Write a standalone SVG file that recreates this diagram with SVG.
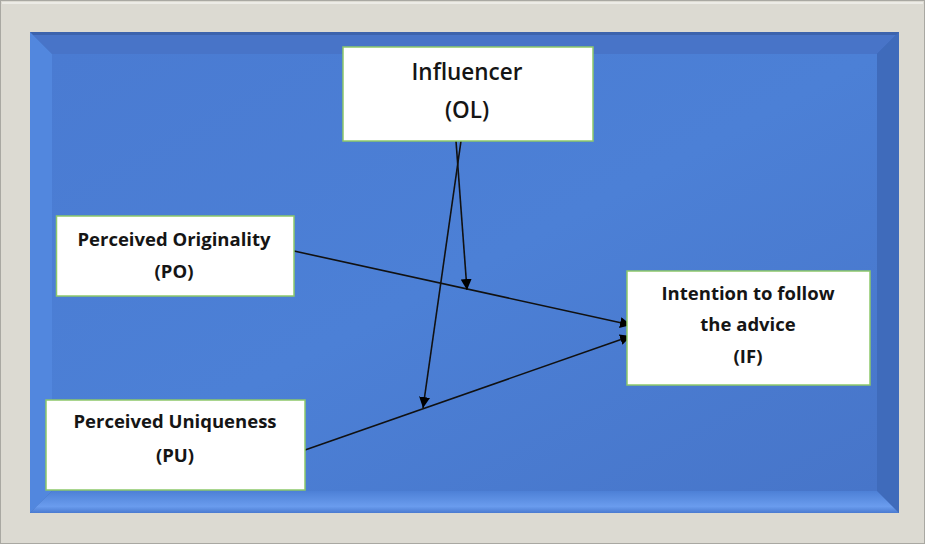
<svg xmlns="http://www.w3.org/2000/svg" width="928" height="545" viewBox="0 0 928 545">
<defs>
<style>
.node rect{fill:#ffffff;stroke:#8dc86a;stroke-width:1.5}
.t{font-family:"Open Sans","DejaVu Sans",sans-serif;font-weight:700;fill:#151515;text-anchor:middle;font-size:18.5px}
.big{font-size:22.5px;font-weight:600}
.conn line{stroke:#111;stroke-width:1.6;fill:none}
</style>
<marker id="ah" viewBox="0 0 10 10" refX="10" refY="5" markerWidth="11" markerHeight="11" markerUnits="userSpaceOnUse" orient="auto">
<path d="M0,0 L10,5 L0,10 z" fill="#000"/>
</marker>
<linearGradient id="bg" x1="0" y1="0" x2="1" y2="1">
<stop offset="0" stop-color="#4a7bd2"/>
<stop offset="0.5" stop-color="#4c80d6"/>
<stop offset="1" stop-color="#4775c9"/>
</linearGradient>
<linearGradient id="bot" x1="0" y1="0" x2="0" y2="1">
<stop offset="0" stop-color="#4d80d6"/>
<stop offset="0.7" stop-color="#6a9cee"/>
<stop offset="1" stop-color="#4a7ad0"/>
</linearGradient>
</defs>
<rect x="0" y="0" width="928" height="545" fill="#ffffff"/>
<rect x="0.5" y="0.5" width="924" height="543" fill="#dcdad2" stroke="#a9a8a2" stroke-width="1"/>
<rect x="2" y="2" width="921" height="2" fill="#ecebe6"/>
<rect x="30" y="32" width="869" height="481" fill="#3f6ab9"/>
<!-- bevel -->
<polygon points="30,32 899,32 877,54 52,54" fill="#4874c8"/>
<rect x="30" y="32" width="869" height="3" fill="#3c63ad"/>
<polygon points="30,32 52,54 52,491 30,513" fill="#5287de"/>
<polygon points="899,32 899,513 877,491 877,54" fill="#3f6bbb"/>
<polygon points="30,513 52,491 877,491 899,513" fill="url(#bot)"/>
<rect x="52" y="54" width="825" height="437" fill="url(#bg)"/>
<g class="conn">
<line x1="294" y1="251" x2="631" y2="325" marker-end="url(#ah)"/>
<line x1="305" y1="450" x2="631" y2="336" marker-end="url(#ah)"/>
<line x1="456" y1="141" x2="467" y2="290" marker-end="url(#ah)"/>
<line x1="461" y1="141" x2="423" y2="408" marker-end="url(#ah)"/>
</g>
<g id="node-ol" class="node">
<rect x="343" y="47" width="250" height="94"/>
<text class="t big" x="467" y="80">Influencer</text>
<text class="t big" x="467" y="118">(OL)</text>
</g>
<g id="node-po" class="node">
<rect x="56.5" y="216" width="237.5" height="80"/>
<text class="t" x="174" y="246">Perceived Originality</text>
<text class="t" x="174" y="278">(PO)</text>
</g>
<g id="node-if" class="node">
<rect x="627" y="271" width="243" height="114"/>
<text class="t" x="748" y="300">Intention to follow</text>
<text class="t" x="748" y="331">the advice</text>
<text class="t" x="748" y="363">(IF)</text>
</g>
<g id="node-pu" class="node">
<rect x="46" y="400" width="259" height="90"/>
<text class="t" x="175" y="428">Perceived Uniqueness</text>
<text class="t" x="175" y="462">(PU)</text>
</g>
</svg>
